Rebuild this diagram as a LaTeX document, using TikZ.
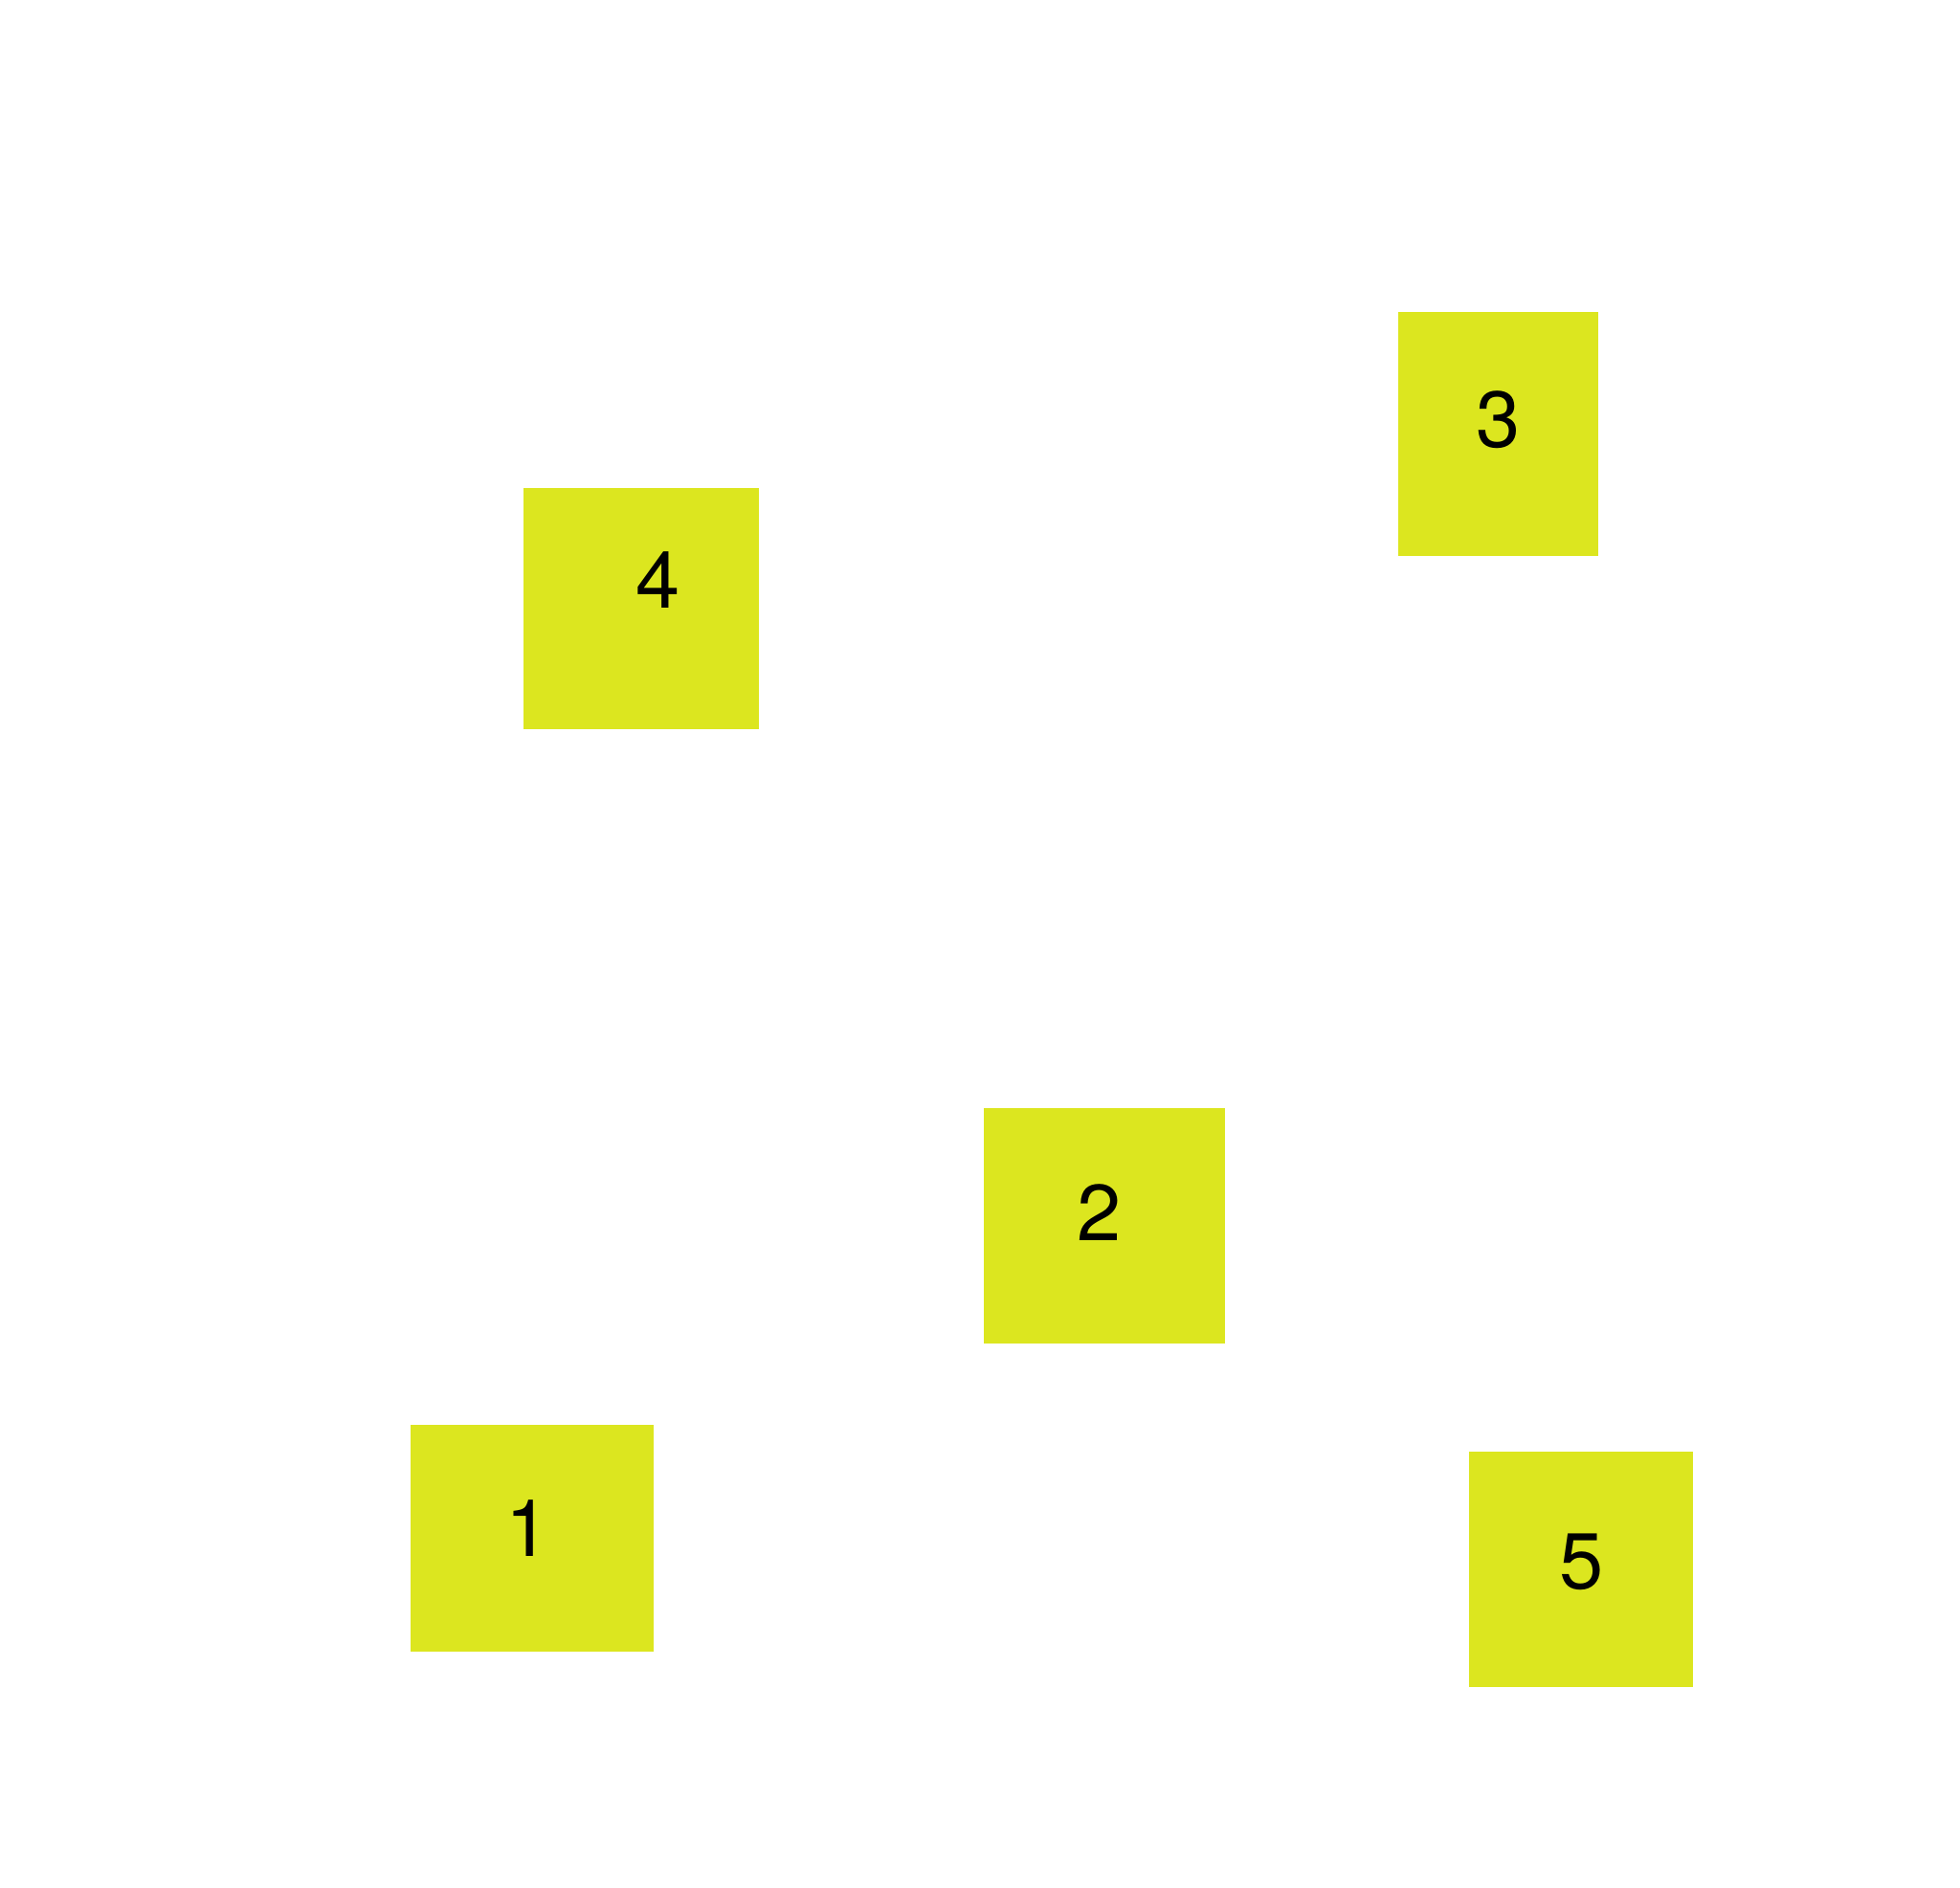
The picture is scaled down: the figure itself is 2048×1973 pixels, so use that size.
\documentclass[tikz,border=0pt]{standalone}
\usepackage{fontspec}
\setmainfont{TeX Gyre Heros}
\definecolor{boxfill}{RGB}{220,230,31}
\begin{document}
\begin{tikzpicture}[x=1pt,y=-1pt,
  cell/.style={fill=boxfill,draw=none,inner sep=0pt,outer sep=0pt},
  num/.style={inner sep=0pt,font=\fontsize{83}{90}\selectfont,text=black}]
\useasboundingbox[fill=white] (0,0) rectangle (2048,1973);
\path[cell] (1461,326) rectangle (1670,581) node[midway] (b3) {};
\path[cell] (547,510) rectangle (793,762) node[midway] (b4) {};
\path[cell] (1028,1158) rectangle (1280,1404) node[midway] (b2) {};
\path[cell] (429,1489) rectangle (683,1726) node[midway] (b1) {};
\path[cell] (1535,1517) rectangle (1769,1763) node[midway] (b5) {};
\node[num] (t3) at (1565.5,438.5) {3};
\node[num] (t4) at (688,606.5) {4};
\node[num] (t2) at (1148.5,1267.5) {2};
\node[num] (t1) at (552,1597) {1};
\node[num] (t5) at (1652.5,1632) {5};
\end{tikzpicture}
\end{document}
